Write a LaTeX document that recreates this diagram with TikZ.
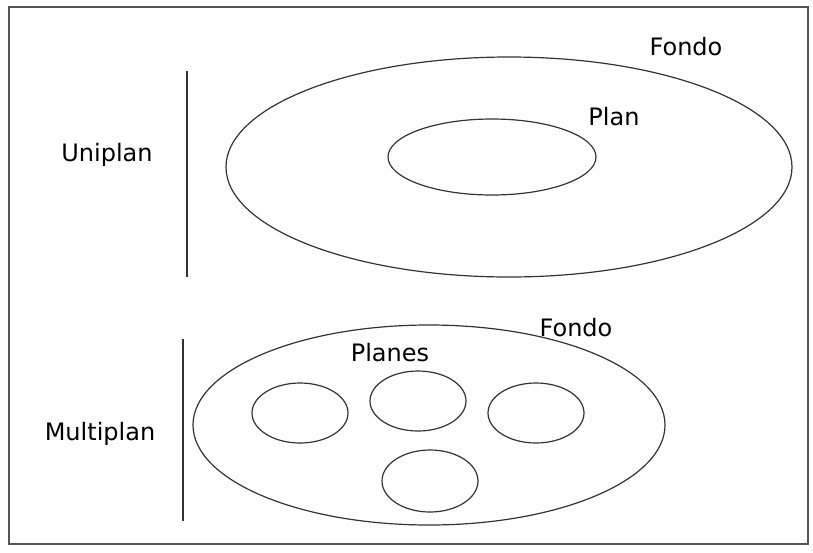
\documentclass[tikz,border=0pt]{standalone}
\usepackage{fontspec}
\setmainfont{DejaVu Sans}
\usetikzlibrary{shapes.geometric}
\definecolor{ink}{HTML}{333333}
\definecolor{frame}{HTML}{555555}
\begin{document}
\begin{tikzpicture}[x=1pt,y=-1pt,
  oval/.style={draw=ink,line width=1.2pt,ellipse,inner sep=0pt},
  lbl/.style={font=\fontsize{24}{29}\selectfont,text=black,inner sep=0pt},
  bar/.style={draw=ink,line width=2pt}]
\useasboundingbox (0,0) rectangle (813,552);
\draw[frame,line width=2pt] (9,7) rectangle (808,544);
% Uniplan
\node[oval,minimum width=566,minimum height=220] (fondoA) at (509,167) {};
\node[oval,minimum width=208,minimum height=76] (plan) at (492,157) {};
\node[lbl] (fondoAl) at (686,47) {Fondo};
\node[lbl] (planl) at (614,117) {Plan};
\node[lbl] (uni) at (107,155) {Uniplan};
\coordinate (u1) at (187,71);
\coordinate (u2) at (187,277);
\draw[bar] (u1) -- (u2);
% Multiplan
\node[oval,minimum width=472,minimum height=200] (fondoB) at (429,425) {};
\node[oval,minimum width=96,minimum height=60] (p1) at (300,413) {};
\node[oval,minimum width=96,minimum height=60] (p2) at (418,401) {};
\node[oval,minimum width=96,minimum height=60] (p3) at (536,413) {};
\node[oval,minimum width=96,minimum height=62] (p4) at (430,481) {};
\node[lbl] (fondoBl) at (576,328) {Fondo};
\node[lbl] (planes) at (390,353) {Planes};
\node[lbl] (multi) at (100,434) {Multiplan};
\coordinate (m1) at (183,339);
\coordinate (m2) at (183,521);
\draw[bar] (m1) -- (m2);
\end{tikzpicture}
\end{document}
